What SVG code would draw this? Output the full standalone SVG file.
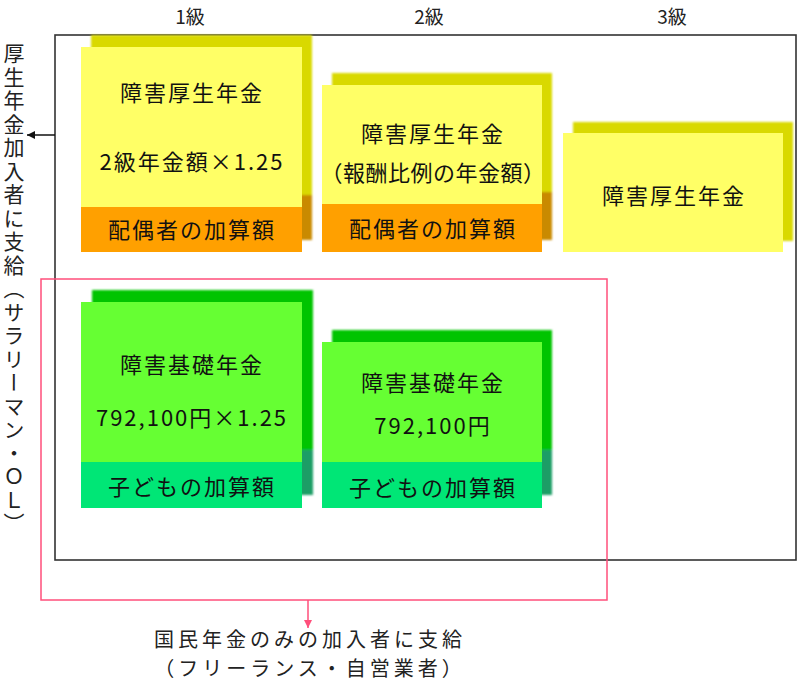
<svg xmlns="http://www.w3.org/2000/svg" width="800" height="683" viewBox="0 0 800 683">
<style>
text{font-family:"Noto Sans CJK JP","Noto Sans CJK SC",sans-serif;font-size:22px;fill:#111;text-anchor:middle;letter-spacing:2px}
.lbl{font-size:19px;fill:#222;letter-spacing:0}
.bt{font-size:20px;letter-spacing:4px;fill:#222}
.vt{writing-mode:vertical-rl;text-anchor:start;font-size:21px;letter-spacing:2.5px;fill:#222}
.yf{fill:#ffff66}.ys{fill:#d9d900}
.of{fill:#ffa000}.os{fill:#c98a00}
.gf{fill:#66ff33}.gs{fill:#00c400}
.tf{fill:#00e676}.ts{fill:#1a9e66}
.sh{filter:url(#blur)}
.frame{fill:none;stroke:#333;stroke-width:1.6}
.pink{fill:none;stroke:#ff4f7b;stroke-width:1.5}
</style>
<defs>
<filter id="blur" x="-10%" y="-10%" width="120%" height="120%"><feGaussianBlur stdDeviation="1.2"/></filter>
<marker id="ab" viewBox="0 0 10 10" refX="10" refY="5" markerWidth="8" markerHeight="8" markerUnits="userSpaceOnUse" orient="auto"><path d="M0,0L10,5L0,10z" fill="#111"/></marker>
<marker id="ap" viewBox="0 0 10 10" refX="10" refY="5" markerWidth="8" markerHeight="8" markerUnits="userSpaceOnUse" orient="auto"><path d="M0,0L10,5L0,10z" fill="#ff4f7b"/></marker>
</defs>
<rect width="800" height="683" fill="#fff"/>
<g id="labels">
<text class="lbl" x="190" y="24">1級</text>
<text class="lbl" x="429" y="24">2級</text>
<text class="lbl" x="672" y="24">3級</text>
<text class="vt" x="14" y="43">厚生年金加入者に支給（サラリーマン・ＯＬ）</text>
<text class="bt" x="310" y="647">国民年金のみの加入者に支給</text>
<text class="bt" x="310" y="676">（フリーランス・自営業者）</text>
</g>
<g id="outer-frame"><rect class="frame" x="55" y="35" width="741" height="525"/></g>
<g id="basic-frame"><rect class="pink" x="41" y="279" width="566" height="321"/></g>
<g id="node-1kyu-kousei">
<g class="sh"><rect class="ys" x="91" y="35" width="221" height="160"/><rect class="os" x="91" y="195" width="221" height="45"/></g>
<rect class="yf" x="81" y="47" width="221" height="160"/><rect class="of" x="81" y="207" width="221" height="45"/>
<text x="192" y="101">障害厚生年金</text>
<text x="192" y="170">2級年金額×1.25</text>
<text x="192" y="238">配偶者の加算額</text>
</g>
<g id="node-2kyu-kousei">
<g class="sh"><rect class="ys" x="332" y="73" width="220" height="119"/><rect class="os" x="332" y="192" width="220" height="48"/></g>
<rect class="yf" x="322" y="85" width="220" height="119"/><rect class="of" x="322" y="204" width="220" height="48"/>
<text x="433" y="142">障害厚生年金</text>
<text x="433" y="181" style="letter-spacing:0.5px">（報酬比例の年金額）</text>
<text x="433" y="237">配偶者の加算額</text>
</g>
<g id="node-3kyu-kousei">
<g class="sh"><rect class="ys" x="573" y="122" width="220" height="119"/></g>
<rect class="yf" x="563" y="133" width="220" height="119"/>
<text x="674" y="204">障害厚生年金</text>
</g>
<g id="node-1kyu-kiso">
<g class="sh"><rect class="gs" x="92" y="290" width="221" height="160"/><rect class="ts" x="92" y="450" width="221" height="45"/></g>
<rect class="gf" x="81" y="302" width="221" height="160"/><rect class="tf" x="81" y="462" width="221" height="46"/>
<text x="192" y="373">障害基礎年金</text>
<text x="192" y="426">792,100円×1.25</text>
<text x="192" y="495">子どもの加算額</text>
</g>
<g id="node-2kyu-kiso">
<g class="sh"><rect class="gs" x="332" y="330" width="220" height="120"/><rect class="ts" x="332" y="450" width="220" height="45"/></g>
<rect class="gf" x="322" y="342" width="220" height="120"/><rect class="tf" x="322" y="462" width="220" height="46"/>
<text x="433" y="391">障害基礎年金</text>
<text x="433" y="434">792,100円</text>
<text x="433" y="496">子どもの加算額</text>
</g>
<g id="connectors">
<line x1="55" y1="135" x2="27" y2="135" stroke="#111" stroke-width="1.5" marker-end="url(#ab)"/>
<line x1="308" y1="600" x2="308" y2="628" stroke="#ff4f7b" stroke-width="1.5" marker-end="url(#ap)"/>
</g>
</svg>
